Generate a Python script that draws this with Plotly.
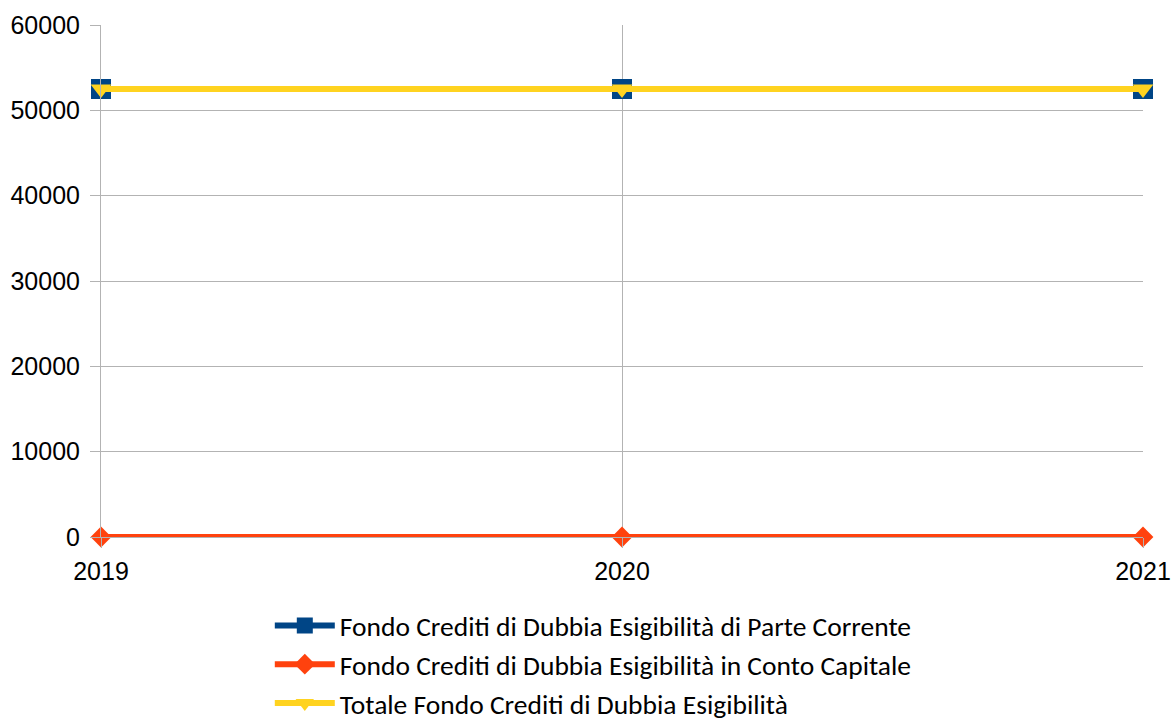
import plotly.graph_objects as go

anni = [2019, 2020, 2021]
parte_corrente = [52500, 52500, 52500]
conto_capitale = [0, 0, 0]
totale = [52500, 52500, 52500]

nomi = [
    "Fondo Crediti di Dubbia Esigibilità di Parte Corrente",
    "Fondo Crediti di Dubbia Esigibilità in Conto Capitale",
    "Totale Fondo Crediti di Dubbia Esigibilità",
]
colori = ["#004586", "#ff420e", "#ffd320"]
simboli = ["square", "diamond", "triangle-down"]
dimensioni = [20, 16, 18]

fig = go.Figure()
for serie, nome, col, sim, dim in zip([parte_corrente, conto_capitale, totale], nomi, colori, simboli, dimensioni):
    fig.add_trace(go.Scatter(
        x=anni, y=serie, name=nome, mode="lines+markers",
        line=dict(color=col, width=6),
        marker=dict(symbol=sim, size=dim, color=col),
        cliponaxis=False,
    ))

fig.update_layout(
    width=1174, height=722,
    margin=dict(l=101, r=31, t=25, b=185, autoexpand=False),
    plot_bgcolor="white", paper_bgcolor="white",
    font=dict(family="Liberation Sans, Arial", size=25, color="black"),
    legend=dict(
        orientation="v", x=0.162, xanchor="left", y=-0.125, yanchor="top",
        font=dict(family="Carlito, Lato, sans-serif", size=27.5),
        tracegroupgap=0, itemwidth=60,
    ),
)
fig.update_xaxes(
    range=[2019, 2021], tickvals=anni, showgrid=True, gridcolor="#b3b3b3",
    ticks="outside", ticklen=10, tickcolor="#b3b3b3", showline=True, linecolor="#b3b3b3",
    zeroline=False, automargin=False, ticklabelstandoff=2,
)
fig.update_yaxes(
    range=[0, 60000], dtick=10000, tickformat="d", showgrid=True, gridcolor="#b3b3b3",
    ticks="outside", ticklen=10, tickcolor="#b3b3b3", showline=True, linecolor="#b3b3b3",
    zeroline=False, automargin=False, ticklabelstandoff=5,
)

# drop the default 8px body margin so the figure sits at the window corner
fig.write_html("out.html", config={"displayModeBar": False},
               post_script="document.body.style.margin='0';")
